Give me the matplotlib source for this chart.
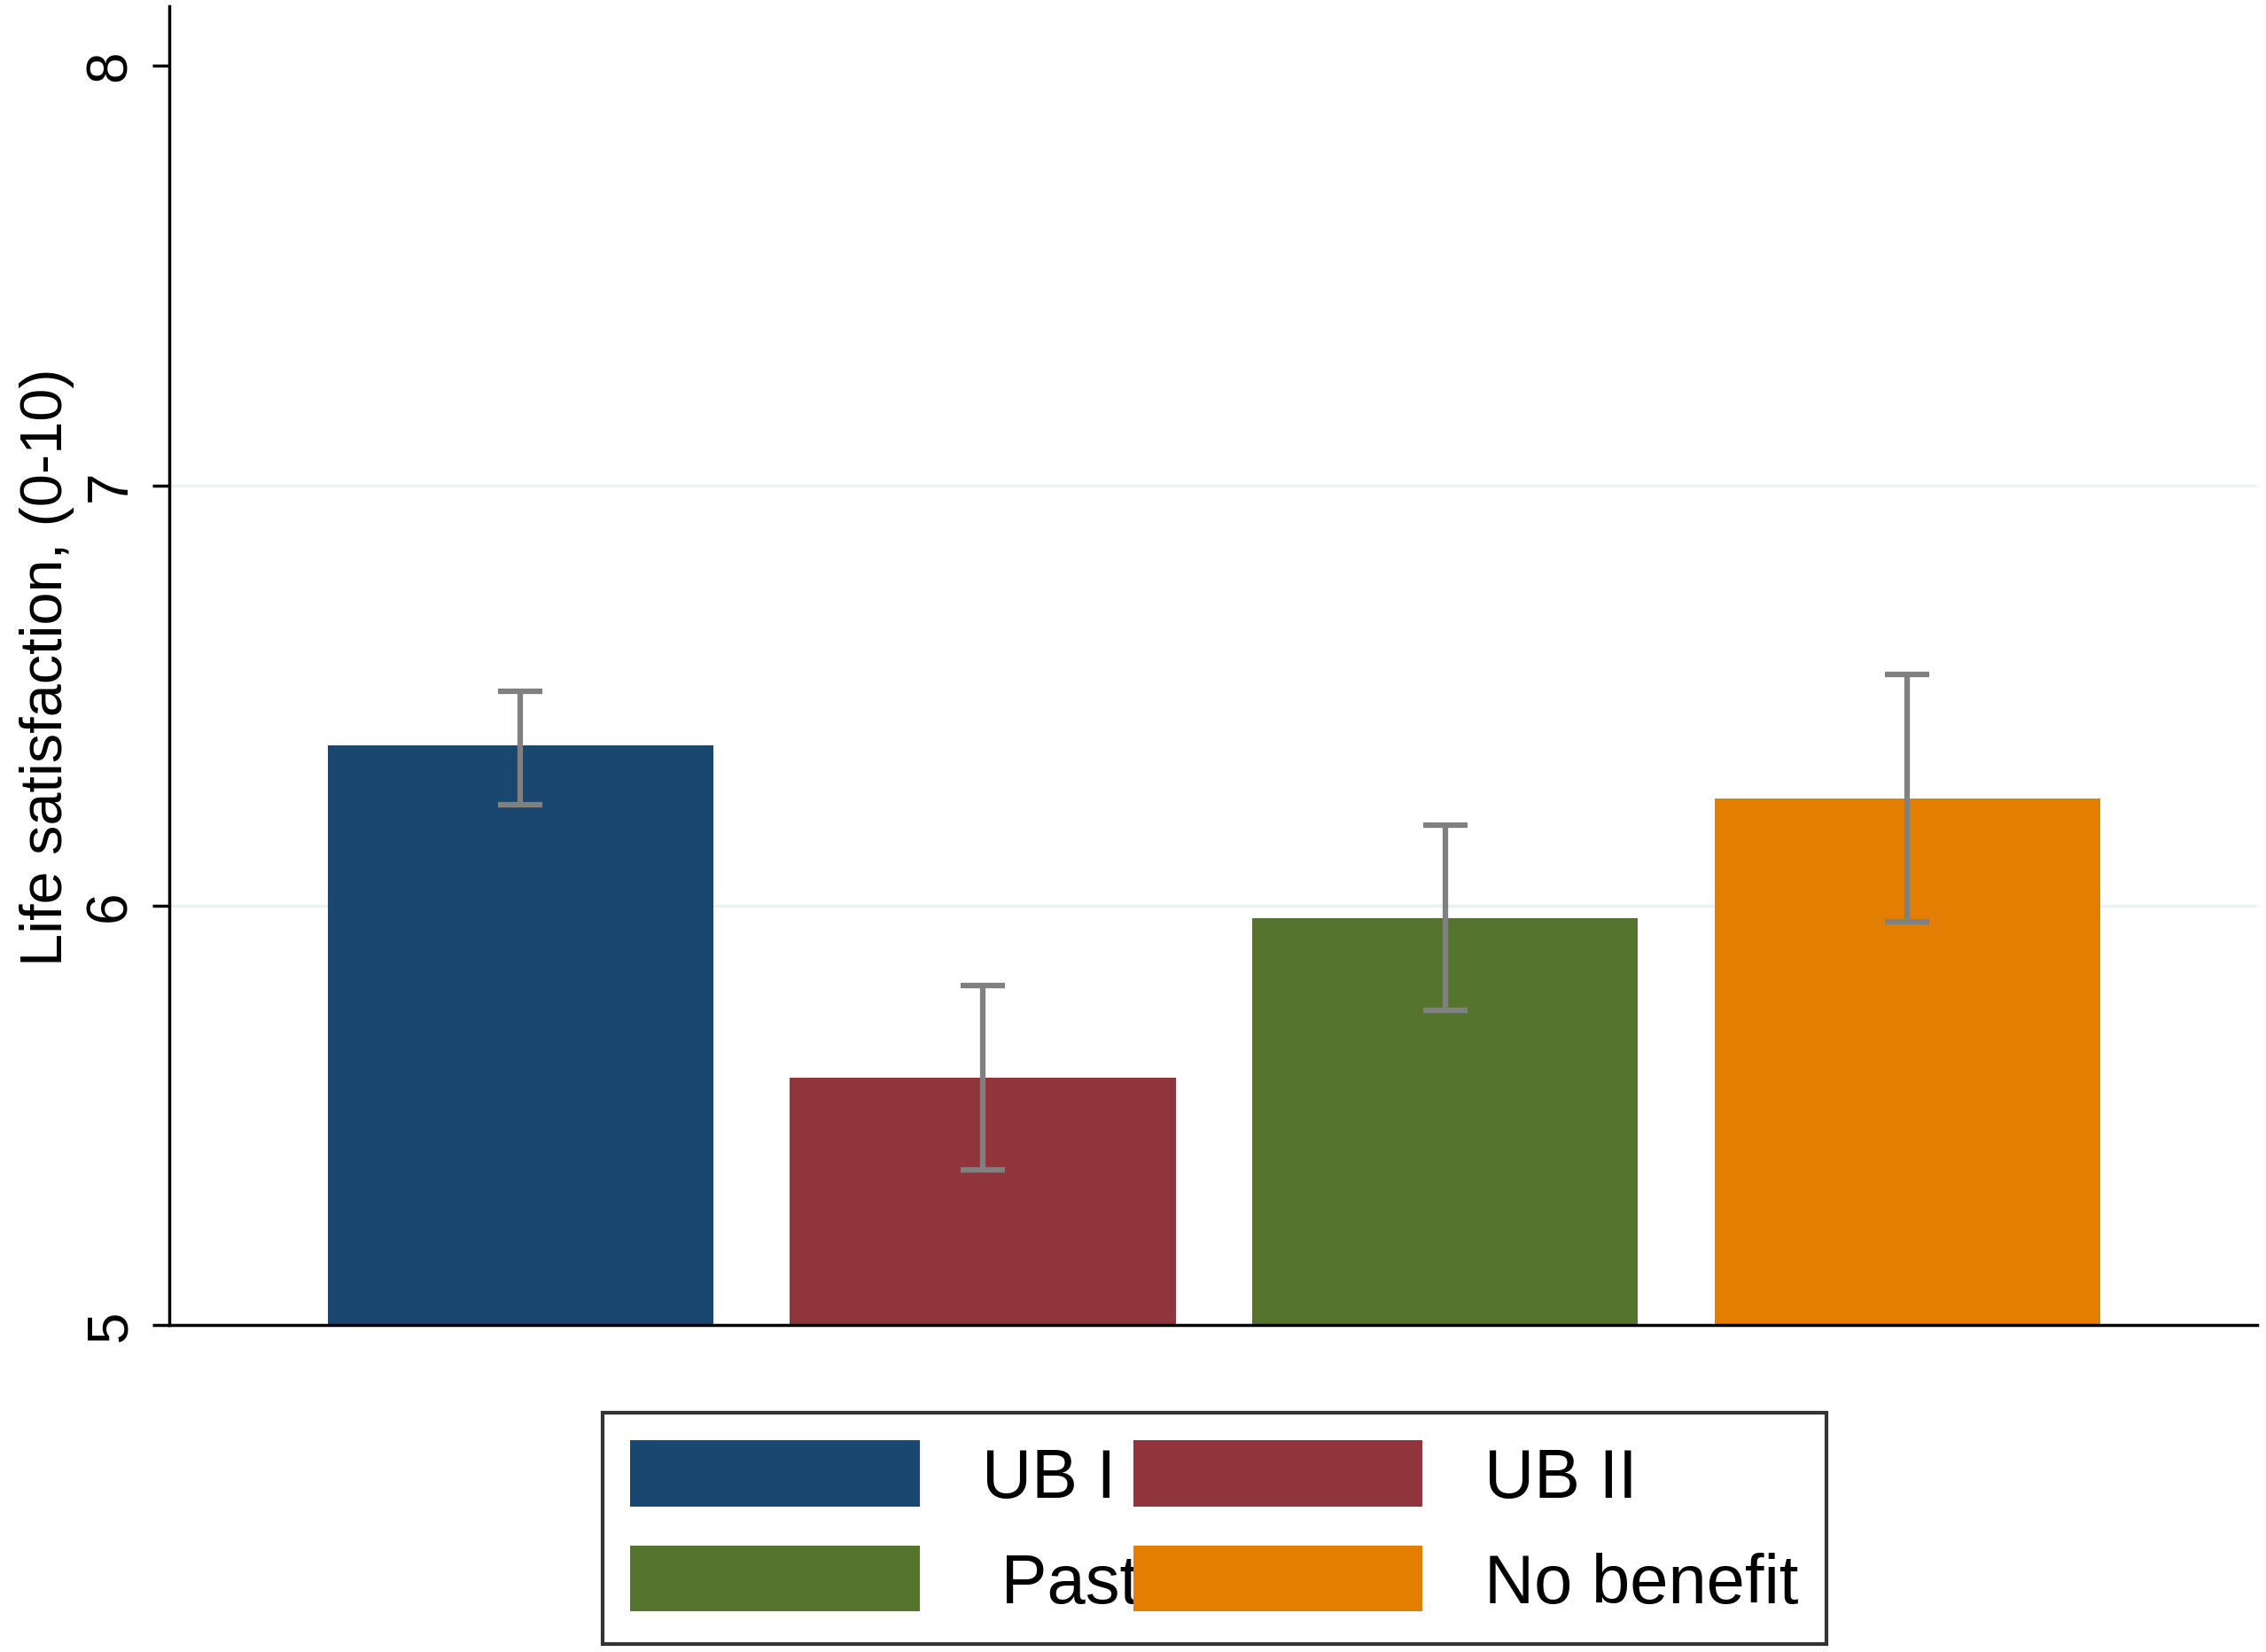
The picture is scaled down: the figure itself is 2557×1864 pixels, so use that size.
import matplotlib
matplotlib.use("Agg")
import matplotlib.pyplot as plt
from matplotlib.patches import Patch

categories = ["UB I", "UB II", " Past UBII", "No benefit"]
means = [6.38, 5.59, 5.97, 6.255]
ci_low = [6.24, 5.37, 5.75, 5.96]
ci_high = [6.51, 5.81, 6.19, 6.55]
colors = ["#1a476f", "#90353b", "#55752f", "#e37e00"]

plt.rcParams['font.family'] = ['Liberation Sans', 'DejaVu Sans']
fig = plt.figure(figsize=(25.57, 18.65), dpi=100)
ax = fig.add_axes([0.0746, 0.1976, 0.9214, 0.798])
x = list(range(len(categories)))
ax.bar(x, [m - 5 for m in means], bottom=5, width=0.834, color=colors, zorder=2)
yerr = [[m - l for m, l in zip(means, ci_low)], [h - m for m, h in zip(means, ci_high)]]
ax.errorbar(x, means, yerr=yerr, fmt='none', ecolor='#808080', elinewidth=4.5,
            capsize=18, capthick=4.5, zorder=3)
ax.set_xlim(-0.76, 3.756)
ax.set_ylim(5, 8.14)
ax.set_yticks([5, 6, 7, 8])
ax.set_yticklabels(["5", "6", "7", "8"], rotation=90, va='center', fontsize=46)
ax.tick_params(axis='y', length=14, width=2.5, pad=12)
ax.set_xticks([])
for y in [6, 7]:
    ax.axhline(y, color='#eaf2f3', lw=2.5, zorder=1)
ax.spines['top'].set_visible(False)
ax.spines['right'].set_visible(False)
ax.spines['left'].set_linewidth(2.5)
ax.spines['bottom'].set_linewidth(2.5)
ax.set_ylabel("Life satisfaction, (0-10)", fontsize=48, labelpad=8)

handles = [Patch(facecolor=c) for c in colors]
order = [0, 2, 1, 3]
leg = fig.legend([handles[i] for i in order], [categories[i] for i in order],
                 ncol=2, loc='lower left', bbox_to_anchor=(0.266, 0.005, 0.54, 0.122),
                 mode='expand', fontsize=56, frameon=True, fancybox=False,
                 edgecolor='black', handlelength=4.2, handleheight=1.1,
                 borderaxespad=0, columnspacing=1.2, handletextpad=0.9)
leg.get_frame().set_linewidth(3)
fig.savefig("out.png", dpi=100)
